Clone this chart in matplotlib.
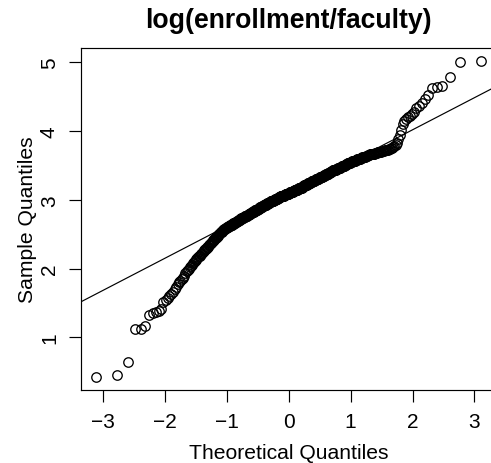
from statistics import NormalDist

import numpy as np
import matplotlib
matplotlib.use("Agg")
import matplotlib.pyplot as plt

plt.rcParams['font.family'] = ['Liberation Sans', 'DejaVu Sans']

# sorted log(enrollment/faculty), one value per school
ratio_sorted = np.array([
    0.42, 0.46, 0.64, 1.12, 1.13, 1.17, 1.32, 1.35, 1.37, 1.38,
    1.41, 1.52, 1.55, 1.57, 1.60, 1.63, 1.66, 1.70, 1.73, 1.78,
    1.80, 1.82, 1.85, 1.87, 1.90, 1.93, 1.96, 1.98, 2.00, 2.03,
    2.04, 2.06, 2.08, 2.10, 2.11, 2.13, 2.14, 2.15, 2.17, 2.18,
    2.19, 2.21, 2.22, 2.23, 2.24, 2.26, 2.27, 2.28, 2.29, 2.30,
    2.31, 2.32, 2.34, 2.35, 2.36, 2.37, 2.38, 2.39, 2.40, 2.41,
    2.42, 2.43, 2.44, 2.45, 2.46, 2.46, 2.47, 2.48, 2.49, 2.50,
    2.51, 2.52, 2.53, 2.53, 2.54, 2.55, 2.56, 2.56, 2.57, 2.58,
    2.58, 2.58, 2.59, 2.59, 2.60, 2.60, 2.60, 2.61, 2.61, 2.62,
    2.62, 2.62, 2.63, 2.63, 2.63, 2.64, 2.64, 2.65, 2.65, 2.66,
    2.66, 2.66, 2.67, 2.67, 2.68, 2.68, 2.68, 2.69, 2.69, 2.70,
    2.70, 2.70, 2.71, 2.71, 2.71, 2.72, 2.72, 2.72, 2.73, 2.73,
    2.73, 2.74, 2.74, 2.74, 2.75, 2.75, 2.75, 2.75, 2.76, 2.76,
    2.76, 2.77, 2.77, 2.77,
    2.77, 2.78, 2.78, 2.78, 2.79, 2.79, 2.79, 2.80, 2.80, 2.80,
    2.81, 2.81, 2.81, 2.82, 2.82, 2.82,
    2.83, 2.83, 2.83, 2.84, 2.84, 2.84, 2.85, 2.85, 2.85, 2.85,
    2.86, 2.86, 2.86, 2.86, 2.87, 2.87, 2.87, 2.87, 2.88, 2.88,
    2.88, 2.88, 2.89, 2.89, 2.89,
    2.90, 2.90, 2.90, 2.90, 2.91, 2.91, 2.91, 2.91, 2.92, 2.92,
    2.92, 2.92, 2.93, 2.93, 2.93, 2.93, 2.94, 2.94, 2.94, 2.94,
    2.95, 2.95, 2.95, 2.96, 2.96,
    2.96, 2.96, 2.97, 2.97, 2.97, 2.97, 2.98, 2.98, 2.98, 2.98,
    2.98, 2.99, 2.99, 2.99, 2.99, 2.99, 3.00, 3.00, 3.00, 3.00,
    3.00, 3.01, 3.01, 3.01, 3.01,
    3.02, 3.02, 3.02, 3.02, 3.03, 3.03, 3.03, 3.03, 3.03, 3.04,
    3.04, 3.04, 3.04, 3.04, 3.05, 3.05, 3.05, 3.05, 3.05, 3.05,
    3.06, 3.06, 3.06, 3.06, 3.06,
    3.06, 3.07, 3.07, 3.07, 3.07, 3.07, 3.08, 3.08, 3.08, 3.08,
    3.08, 3.09, 3.09, 3.09, 3.09, 3.09, 3.09, 3.10,
    3.10, 3.10, 3.10, 3.10, 3.11, 3.11, 3.11, 3.11, 3.11, 3.12,
    3.12, 3.12, 3.12, 3.12, 3.13, 3.13, 3.13, 3.13,
    3.13, 3.14, 3.14, 3.14, 3.14, 3.14, 3.15, 3.15, 3.15, 3.15,
    3.15, 3.16, 3.16, 3.16, 3.16, 3.16, 3.17, 3.17, 3.17, 3.17,
    3.17, 3.18, 3.18, 3.18, 3.18,
    3.18, 3.19, 3.19, 3.19, 3.19, 3.20, 3.20, 3.20, 3.20, 3.21,
    3.21, 3.21, 3.21, 3.22, 3.22, 3.22, 3.22, 3.22, 3.23, 3.23,
    3.23, 3.23, 3.24, 3.24, 3.24,
    3.24, 3.25, 3.25, 3.25, 3.25, 3.26, 3.26, 3.26, 3.26, 3.27,
    3.27, 3.27, 3.27, 3.28, 3.28, 3.28, 3.28, 3.28, 3.29, 3.29,
    3.29, 3.29, 3.30, 3.30, 3.30,
    3.30, 3.31, 3.31, 3.31, 3.31, 3.32, 3.32, 3.32, 3.32, 3.33,
    3.33, 3.33, 3.33, 3.34, 3.34, 3.34, 3.34, 3.35, 3.35, 3.35,
    3.35, 3.35, 3.36, 3.36, 3.36,
    3.36, 3.36, 3.37, 3.37, 3.37, 3.38, 3.38, 3.38, 3.38, 3.39,
    3.39, 3.39, 3.39, 3.40, 3.40, 3.40,
    3.41, 3.41, 3.42, 3.42, 3.42, 3.43, 3.43, 3.43, 3.43, 3.44,
    3.44, 3.44, 3.44, 3.44,
    3.45, 3.45, 3.45, 3.45, 3.46, 3.46, 3.46, 3.47, 3.47, 3.47,
    3.47, 3.48, 3.48, 3.48, 3.49, 3.49, 3.49, 3.50, 3.50, 3.50,
    3.50, 3.51, 3.51, 3.51, 3.52, 3.52, 3.52, 3.53, 3.53, 3.53,
    3.53, 3.54, 3.54, 3.54, 3.55, 3.55, 3.55, 3.56, 3.56, 3.56,
    3.56, 3.57, 3.57, 3.57, 3.58, 3.58, 3.58, 3.59, 3.59, 3.59,
    3.60, 3.60, 3.60, 3.61, 3.61, 3.61, 3.62, 3.62, 3.62, 3.63,
    3.63, 3.63, 3.64, 3.64, 3.64, 3.65, 3.65, 3.65, 3.66, 3.66,
    3.66, 3.67, 3.67, 3.67, 3.67, 3.68, 3.68, 3.68, 3.69, 3.69,
    3.69, 3.70, 3.70, 3.71, 3.71, 3.71, 3.72, 3.72, 3.72, 3.73,
    3.74, 3.74, 3.75, 3.76, 3.77, 3.79, 3.80, 3.82,
    3.88, 3.95, 4.01, 4.10, 4.15, 4.18, 4.20, 4.22, 4.25, 4.28,
    4.34, 4.37, 4.41, 4.46, 4.53, 4.62, 4.64, 4.66, 4.78, 5.00,
    5.02,
])

x_ticks = [-3, -2, -1, 0, 1, 2, 3]
y_ticks = [1, 2, 3, 4, 5]

# normal scores, same plotting positions as R's ppoints (n > 10)
n = len(ratio_sorted)
nd = NormalDist()
theo = np.array([nd.inv_cdf((i - 0.5) / n) for i in range(1, n + 1)])

# reference line through the first and third quartiles
q1, q3 = np.quantile(ratio_sorted, [0.25, 0.75])
z1, z3 = nd.inv_cdf(0.25), nd.inv_cdf(0.75)
slope = (q3 - q1) / (z3 - z1)
icpt = q1 - slope * z1

W, H = 491, 464
fig = plt.figure(figsize=(W / 100, H / 100), dpi=100)
ax = fig.add_axes([80.7 / W, (H - 391) / H, 416 / W, 341.7 / H])

ax.plot(theo, ratio_sorted, 'o', ms=6.8, mfc='none', mec='black', mew=0.95)

def pad4(lo, hi):
    d = 0.04 * (hi - lo)
    return lo - d, hi + d

xlim = pad4(theo.min(), theo.max())
ylim = pad4(ratio_sorted.min(), ratio_sorted.max())
xx = np.array(xlim)
ax.plot(xx, icpt + slope * xx, color='black', lw=0.85)
ax.set_xlim(*xlim)
ax.set_ylim(*ylim)

for s in ax.spines.values():
    s.set_linewidth(0.85)
ax.set_xticks(x_ticks)
ax.set_yticks(y_ticks)
ax.set_xticklabels([f"{t}".replace('-', '\u2212') for t in x_ticks])
ax.set_yticklabels([str(t) for t in y_ticks], rotation=90, va='center')
ax.tick_params(axis='both', length=8.7, width=0.85, labelsize=15, pad=7)

fig.text(288.7 / W, 1 - 27.5 / H, 'log(enrollment/faculty)', ha='center',
         va='baseline', fontsize=19.2, fontweight='bold')
fig.text(288.7 / W, 1 - 459.5 / H, 'Theoretical Quantiles', ha='center',
         va='baseline', fontsize=15.2)
fig.text(33 / W, 1 - 220 / H, 'Sample Quantiles', ha='center', va='baseline',
         rotation=90, rotation_mode='anchor', fontsize=15.2)

fig.savefig('out.png', dpi=100)
